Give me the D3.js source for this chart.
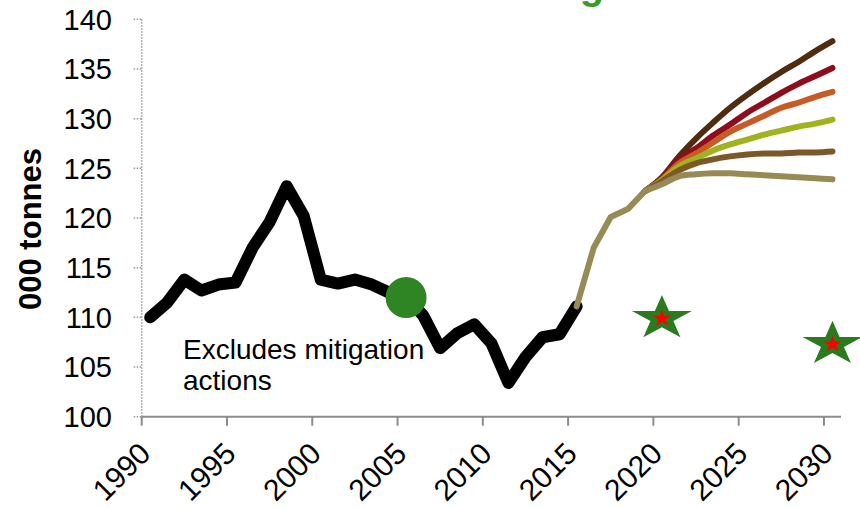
<!doctype html>
<html>
<head>
<meta charset="utf-8">
<script src="https://d3js.org/d3.v7.min.js"></script>
<style>
  body { margin: 0; background: #fff; font-family: 'Liberation Sans', Arial, sans-serif; }
  svg text { font-family: 'Liberation Sans', Arial, sans-serif; }
</style>
</head>
<body>
<div id="chart"></div>
<script>
// historical emissions, 1990-2015
var histYears = d3.range(1990, 2016);
var histValues = [110, 111.5, 113.8, 112.7, 113.3, 113.5, 117, 119.6, 123.2, 120.2,
                  113.8, 113.4, 113.8, 113.3, 112.5, 112.0, 110.2, 106.9, 108.4, 109.3,
                  107.4, 103.4, 106.0, 108.0, 108.3, 111.1];

// recent / estimated, 2015-2019
var recentYears = [2015, 2016, 2017, 2018, 2019];
var recentValues = [111.1, 117.0, 120.1, 120.9, 122.7];

// projections 2019-2030
var projYears = d3.range(2019, 2031);
var projDarkBrown = [122.7, 124.1, 126.2, 128.0, 129.6, 131.1, 132.4, 133.6, 134.7, 135.7, 136.8, 137.8];
var projRed       = [122.7, 124.0, 125.9, 127.0, 128.3, 129.4, 130.6, 131.6, 132.6, 133.5, 134.3, 135.1];
var projOrange    = [122.7, 123.9, 125.5, 126.5, 127.6, 128.7, 129.5, 130.3, 131.1, 131.6, 132.2, 132.7];
var projGreen     = [122.7, 123.8, 125.2, 126.0, 126.8, 127.4, 127.9, 128.4, 128.8, 129.2, 129.5, 129.9];
var projBrown     = [122.7, 123.7, 124.8, 125.5, 125.9, 126.2, 126.4, 126.5, 126.5, 126.6, 126.6, 126.7];
var projKhaki     = [122.7, 123.4, 124.2, 124.4, 124.5, 124.5, 124.4, 124.3, 124.2, 124.1, 124.0, 123.9];

// reference point and targets
var markYear = 2005, markValue = 112.0;
var targetYears = [2020, 2030];
var targetValues = [109.9, 107.3];

var xTicks = d3.range(1990, 2031, 5);
var yTicks = d3.range(100, 141, 5);

var width = 860, height = 508;

var svg = d3.select("#chart").append("svg")
  .attr("width", width)
  .attr("height", height);

// years are categories: point sits in the middle of its year
var x = d3.scaleLinear().domain([1990, 2031]).range([141.7, 841]);
var y = d3.scaleLinear().domain([100, 140]).range([416.7, 19.3]);
function px(yr) { return x(yr + 0.5); }

// title, mostly above the visible area (only a descender shows)
svg.append("text")
  .attr("x", 349).attr("y", -1.5)
  .attr("fill", "#3a9a2b")
  .attr("font-weight", "bold")
  .attr("font-size", 40)
  .text("Without mitigation");

// y axis (dotted)
svg.append("line")
  .attr("x1", x(1990)).attr("x2", x(1990))
  .attr("y1", y(140)).attr("y2", y(100))
  .attr("stroke", "#999").attr("stroke-width", 1.5)
  .attr("stroke-dasharray", "1.5,1.5");

svg.selectAll(".ytick").data(yTicks).enter().append("line")
  .attr("x1", x(1990) - 8).attr("x2", x(1990))
  .attr("y1", function(d){ return y(d); })
  .attr("y2", function(d){ return y(d); })
  .attr("stroke", "#999").attr("stroke-width", 1.5)
  .attr("stroke-dasharray", "1.5,1.5");

svg.selectAll(".ylab").data(yTicks).enter().append("text")
  .attr("x", 112)
  .attr("y", function(d){ return y(d); })
  .attr("dy", "0.36em")
  .attr("text-anchor", "end")
  .attr("font-size", 29)
  .attr("fill", "#000")
  .text(function(d){ return d; });

svg.append("text")
  .attr("transform", "translate(41,229) rotate(-90)")
  .attr("text-anchor", "middle")
  .attr("font-size", 31)
  .attr("font-weight", "bold")
  .text("000 tonnes");

// x axis
svg.append("line")
  .attr("x1", x(1990)).attr("x2", x(2031))
  .attr("y1", y(100)).attr("y2", y(100))
  .attr("stroke", "#8c8c8c").attr("stroke-width", 2);

svg.selectAll(".xtick").data(xTicks).enter().append("line")
  .attr("x1", function(d){ return x(d); })
  .attr("x2", function(d){ return x(d); })
  .attr("y1", y(100)).attr("y2", y(100) + 9)
  .attr("stroke", "#8c8c8c").attr("stroke-width", 2);

svg.selectAll(".xlab").data(xTicks).enter().append("text")
  .attr("transform", function(d){ return "translate(" + (x(d) + 3) + "," + (y(100) + 31) + ") rotate(-45)"; })
  .attr("text-anchor", "end")
  .attr("dy", "0.36em")
  .attr("font-size", 30)
  .text(function(d){ return d; });

// lines
var lineLinear = d3.line()
  .x(function(d){ return px(d[0]); })
  .y(function(d){ return y(d[1]); });

var lineSmooth = d3.line()
  .x(function(d){ return px(d[0]); })
  .y(function(d){ return y(d[1]); })
  .curve(d3.curveCatmullRom);

function pairs(years, vals) {
  return years.map(function(yr, i){ return [yr, vals[i]]; });
}

svg.append("path")
  .attr("d", lineLinear(pairs(histYears, histValues)))
  .attr("fill", "none").attr("stroke", "#000")
  .attr("stroke-width", 12)
  .attr("stroke-linejoin", "round").attr("stroke-linecap", "round");

var scenarios = [
  {vals: projDarkBrown, color: "#4f2b0f"},
  {vals: projRed, color: "#8e0d1c"},
  {vals: projOrange, color: "#c65b26"},
  {vals: projGreen, color: "#a0b31f"},
  {vals: projBrown, color: "#7c5728"},
  {vals: projKhaki, color: "#978b55"}
];

scenarios.forEach(function(s){
  svg.append("path")
    .attr("d", lineSmooth(pairs(projYears, s.vals)))
    .attr("fill", "none").attr("stroke", s.color)
    .attr("stroke-width", 6)
    .attr("stroke-linejoin", "round").attr("stroke-linecap", "round");
});

svg.append("path")
  .attr("d", lineLinear(pairs(recentYears, recentValues)))
  .attr("fill", "none").attr("stroke", "#978b55")
  .attr("stroke-width", 6)
  .attr("stroke-linejoin", "round").attr("stroke-linecap", "round");

// 2005 marker
svg.append("circle")
  .attr("cx", px(markYear)).attr("cy", y(markValue))
  .attr("r", 20.5)
  .attr("fill", "#2f8424");

// target stars
function starPath(rx, ry) {
  var pts = [];
  for (var i = 0; i < 10; i++) {
    var a = -Math.PI / 2 + i * Math.PI / 5;
    var r = (i % 2 === 0) ? 1 : 0.382;
    pts.push([Math.cos(a) * r * rx, Math.sin(a) * r * ry]);
  }
  return "M" + pts.map(function(p){ return p[0].toFixed(2) + "," + p[1].toFixed(2); }).join("L") + "Z";
}

var stars = svg.selectAll(".target").data(targetYears).enter().append("g")
  .attr("transform", function(d, i){ return "translate(" + px(d) + "," + y(targetValues[i]) + ")"; });

stars.append("path").attr("d", starPath(31.5, 23.4)).attr("fill", "#2b7a1e");
stars.append("path").attr("d", starPath(9.6, 8.7)).attr("fill", "#ff0000");

// note
var note = svg.append("text")
  .attr("x", 183).attr("y", 359)
  .attr("font-size", 28);
note.append("tspan").attr("x", 183).text("Excludes mitigation");
note.append("tspan").attr("x", 183).attr("dy", 31).text("actions");
</script>
</body>
</html>
